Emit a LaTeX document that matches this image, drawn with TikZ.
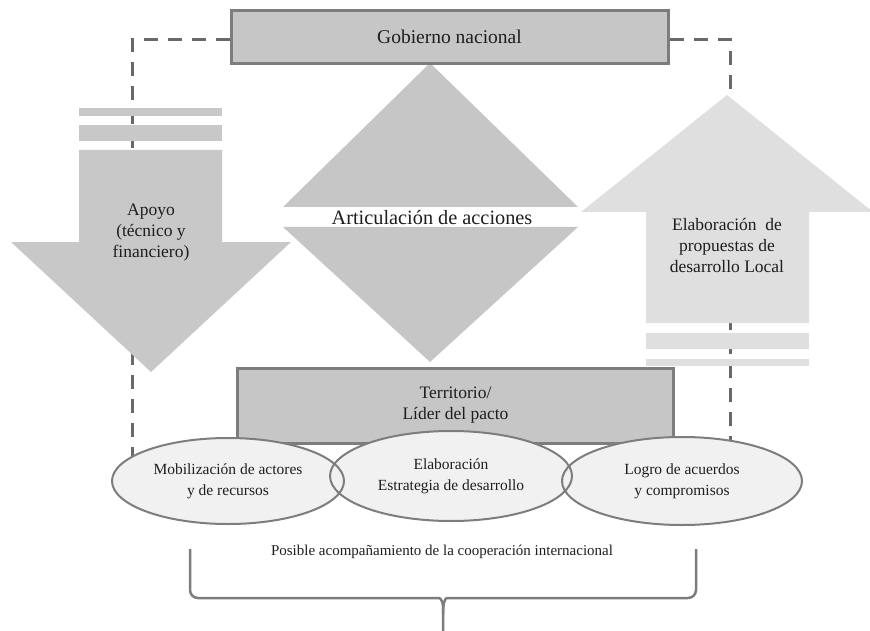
\documentclass[tikz,border=0pt]{standalone}
\usepackage{fontspec}
\setmainfont{Liberation Serif}
\usepackage{tikz}
\usetikzlibrary{shapes.geometric,backgrounds}
\usepackage{xcolor}

\definecolor{boxgray}{RGB}{198,198,198}
\definecolor{linegray}{RGB}{125,125,125}
\definecolor{downgray}{RGB}{200,200,200}
\definecolor{upgray}{RGB}{223,223,223}
\definecolor{ovalfill}{RGB}{241,241,241}
\definecolor{dashgray}{RGB}{105,105,105}
\definecolor{inkgray}{RGB}{30,30,30}

\newcommand{\fsz}[2]{\fontsize{#1}{#2}\selectfont}

\begin{document}
\begin{tikzpicture}[
  x=1pt, y=-1pt,
  every node/.style={text=inkgray, inner sep=0pt},
  levelbox/.style={draw=linegray, line width=3pt, fill=boxgray, align=center},
  oval/.style={ellipse, draw=linegray, line width=2pt, align=center, font=\fsz{15.5}{21}},
  dashline/.style={dashgray, line width=3pt, dash pattern=on 14pt off 10pt},
  arrowtext/.style={align=center, font=\fsz{17.5}{21}},
  bracepen/.style={linegray, line width=2.5pt},
]
  \useasboundingbox (0,0) rectangle (870,631);

  % Diamond (articulation)
  \fill[boxgray] (430,63) -- (283,207) -- (578,207) -- cycle;
  \fill[boxgray] (283,227) -- (578,227) -- (430,362) -- cycle;

  % Down arrow (left)
  \fill[downgray] (79,108) rectangle (222,116);
  \fill[downgray] (79,125) rectangle (222,141);
  \fill[downgray] (79,150) -- (222,150) -- (222,242) -- (291,242)
    -- (151,372) -- (11,242) -- (79,242) -- cycle;

  % Up arrow (right)
  \fill[upgray] (646,333) rectangle (809,349);
  \fill[upgray] (646,359) rectangle (809,366);
  \fill[upgray] (646,323) -- (646,212) -- (581,212) -- (727,95)
    -- (873,212) -- (809,212) -- (809,323) -- cycle;

  % Levels
  \node[levelbox, minimum width=437pt, minimum height=53pt, font=\fsz{19.5}{22}]
    (gob) at (449.5,37) {Gobierno nacional};
  \node[levelbox, minimum width=436pt, minimum height=75pt, font=\fsz{17.5}{21}]
    (terr) at (455.5,405.5) {Territorio/\\Líder del pacto};

  % Dashed frame behind everything
  \coordinate (dl) at (132,466);
  \coordinate (dr) at (730,466);
  \begin{scope}[on background layer]
    \draw[dashline] ([yshift=-3pt]gob.west) -| (dl);
    \draw[dashline] ([yshift=-3pt]gob.east) -| (dr);
  \end{scope}

  % Oval fills first, so every outline stays visible
  \foreach \cx/\cy/\rx/\ry in {228/481/116/43, 451/476/121/45, 682/481/120/44} {
    \fill[ovalfill] (\cx,\cy) ellipse [x radius=\rx, y radius=\ry];
  }
  \node[oval, minimum width=232pt, minimum height=86pt] (mob) at (228,481)
    {Mobilización de actores\\y de recursos};
  \node[oval, minimum width=242pt, minimum height=90pt] (ela) at (451,476)
    {Elaboración\\Estrategia de desarrollo};
  \node[oval, minimum width=240pt, minimum height=88pt] (log) at (682,481)
    {Logro de acuerdos\\y compromisos};

  % Labels
  \node[font=\fsz{20.3}{22}] (art) at (432,218) {Articulación de acciones};
  \node[arrowtext] (apoyo) at (151,232.5) {Apoyo\\(técnico y\\financiero)};
  \node[arrowtext] (prop) at (727,246) {Elaboración~ de\\propuestas de\\desarrollo Local};
  \node[font=\fsz{15}{18}] (coop) at (442,552)
    {Posible acompañamiento de la cooperación internacional};

  % Brace
  \coordinate (tip) at (443,631);
  \draw[bracepen, rounded corners=8pt] (190,549) -- (190,598) -- (431,598)
    .. controls (441,598) and (443,603) .. (443,614) -- (tip);
  \draw[bracepen, rounded corners=8pt] (696,549) -- (696,598) -- (455,598)
    .. controls (445,598) and (443,603) .. (443,614);
\end{tikzpicture}
\end{document}
